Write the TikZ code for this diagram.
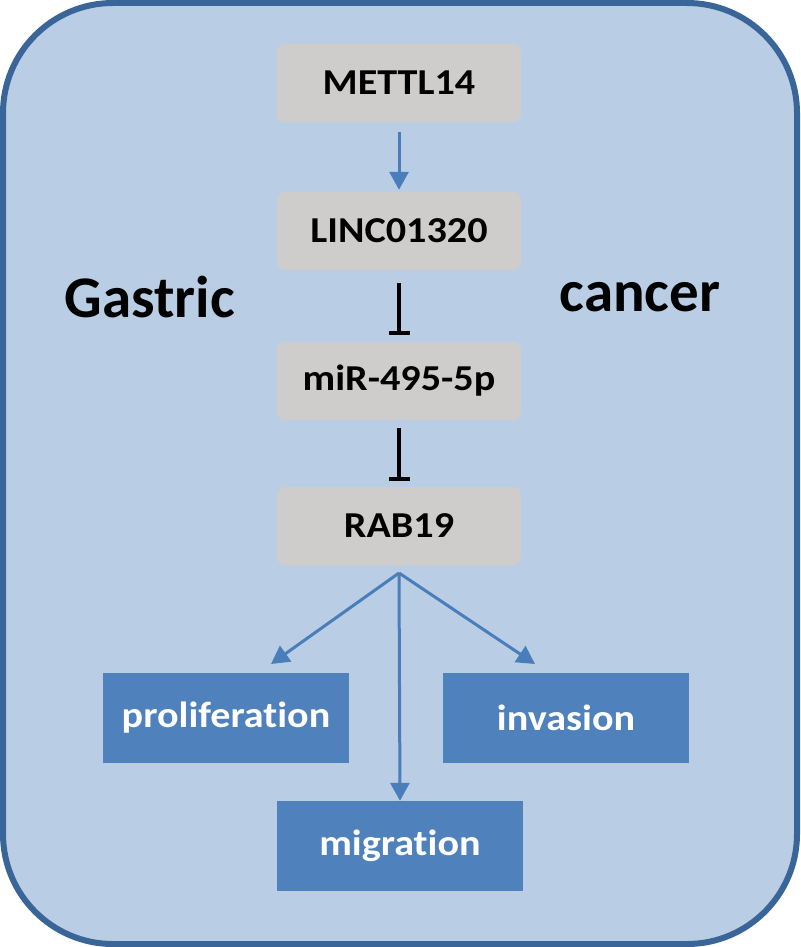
\documentclass[tikz,border=0pt]{standalone}
\usepackage{fontspec}
\setmainfont{Carlito}[Ligatures=NoCommon]
\newfontfamily\boxfont{Carlito}[Ligatures=NoCommon, FakeStretch=1.1]
\usetikzlibrary{arrows.meta}
\definecolor{bgfill}{HTML}{B9CDE5}
\definecolor{bgline}{HTML}{3A6598}
\definecolor{graybox}{HTML}{CFCDCB}
\definecolor{bluebox}{HTML}{4F81BD}
\definecolor{arrowblue}{HTML}{4A7EBB}
\tikzset{
  genebox/.style={fill=graybox, rounded corners=8pt, minimum width=244pt, minimum height=78pt, inner sep=0pt,
    font=\boxfont\fontsize{36.5}{40}\selectfont\bfseries, text=black},
  outbox/.style={fill=bluebox, minimum width=246pt, minimum height=90pt, inner sep=0pt,
    font=\boxfont\fontsize{36.5}{40}\selectfont\bfseries, text=white},
  actarrow/.style={draw=arrowblue, line width=3pt, -{Triangle[length=18pt,width=19pt]}},
  inhib/.style={draw=black, line width=3.5pt, -{Bar[width=21pt,line width=3.5pt]}},
  sidetext/.style={font=\fontsize{59}{64}\selectfont\bfseries, text=black}
}
\begin{document}
\begin{tikzpicture}[x=1pt,y=-1pt]
\useasboundingbox (0,0) rectangle (800,947);
\draw[fill=bgfill, draw=bgline, line width=6pt, rounded corners=110pt] (3,3) rectangle (797,944);
\node[genebox] (mettl) at (399,83) {METTL14};
\node[genebox] (linc) at (399,231) {LINC01320};
\node[genebox] (mir) at (399,381) {miR-495-5p};
\node[genebox] (rab) at (399,526) {RAB19};
\node[outbox] (prolif) at (226,718) {proliferation};
\node[outbox] (inv) at (566,718) {invasion};
\node[outbox] (mig) at (400,846) {migration};
\node[sidetext] (gastric) at (150,297) {Gastric};
\node[sidetext] (cancer) at (640,297) {cancer};
\coordinate (branch) at (399,573);
\draw[actarrow] ([yshift=-10pt]mettl.south) -- ([yshift=2pt]linc.north);
\draw[inhib] ([yshift=-13pt]linc.south) -- ([yshift=7pt]mir.north);
\draw[inhib] ([yshift=-8pt]mir.south) -- ([yshift=6pt]rab.north);
\draw[actarrow] (branch) -- (271,664);
\draw[actarrow] (branch) -- (535,664);
\draw[actarrow] (branch) -- (mig.north);
\end{tikzpicture}
\end{document}
